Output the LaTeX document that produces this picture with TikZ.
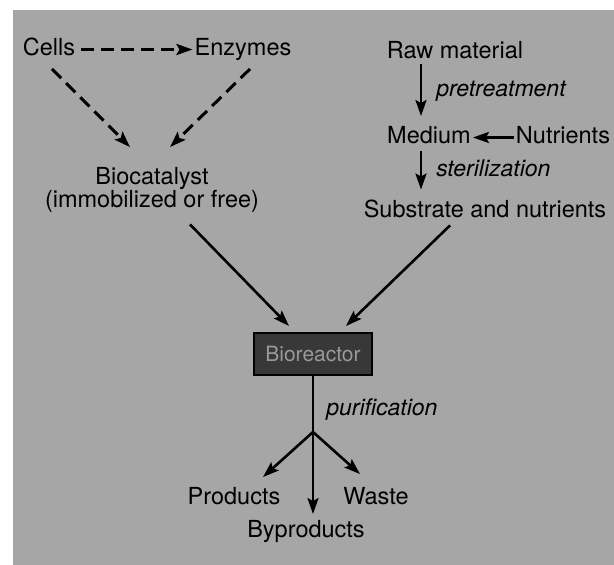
\documentclass[tikz,border=0pt]{standalone}
\usepackage{fontspec}
\setmainfont{TeX Gyre Heros}
\usetikzlibrary{arrows.meta, positioning}

\begin{document}
\begin{tikzpicture}[>={Stealth[length=16pt,width=11pt,inset=3pt]}, x=1pt, y=1pt,
    lbl/.style={font=\fontsize{23.5}{23.5}\selectfont, inner sep=2pt, text height=17pt, text depth=5.5pt},
    note/.style={font=\fontsize{23}{23}\selectfont\itshape, inner sep=2pt, text height=17pt, text depth=5.5pt},
    arr/.style={->, line width=2.6pt},
    darr/.style={->, line width=3pt, dash pattern=on 13pt off 7pt}]

    % Nền xám
    \fill[black!35] (13,-10) rectangle (614,-565);
    \useasboundingbox (0,0) rectangle (614,-565);

    % Nhánh trái: tế bào, enzyme, xúc tác
    \node[lbl] (cells) at (49,-49.5) {Cells};
    \node[lbl] (enz) at (243,-49.5) {Enzymes};
    \node[font=\fontsize{23.5}{22}\selectfont, align=center, inner sep=2pt] (bcat) at (152,-190) {
        Biocatalyst\\
        (immobilized or free)
    };
    \draw[darr, shorten <=4pt] (cells) -- (enz);
    \draw[darr] ([xshift=3pt,yshift=-6pt]cells.south) -- ([xshift=-22pt,yshift=18pt]bcat.north);
    \draw[darr] ([xshift=7pt,yshift=-6pt]enz.south) -- ([xshift=18pt,yshift=18pt]bcat.north);

    % Nhánh phải: nguyên liệu, môi trường, cơ chất
    \node[lbl] (raw) at (455,-53) {Raw material};
    \node[lbl] (medium) at (429,-137.5) {Medium};
    \node[lbl] (nutr) at (563,-137.5) {Nutrients};
    \node[lbl] (subs) at (485,-212) {Substrate and nutrients};
    \draw[arr] ([xshift=-34pt,yshift=2pt]raw.south) -- ([xshift=-8pt,yshift=8pt]medium.north)
        node[midway, note, right=12pt] {pretreatment};
    \draw[arr] (nutr) -- (medium);
    \draw[arr] ([xshift=-8pt]medium.south) -- ([xshift=-64pt,yshift=9pt]subs.north)
        node[midway, note, right=12pt] {sterilization};

    % Khối trung tâm: lò phản ứng sinh học
    \node[draw=black, line width=2pt, fill=black!78, text=black!40, minimum width=118pt, minimum height=42pt,
        font=\fontsize{21}{21}\selectfont] (reactor) at (313,-354) {Bioreactor};
    \draw[arr] ([xshift=38pt,yshift=-9.5pt]bcat.south) -- ([xshift=-24pt,yshift=6pt]reactor.north);
    \draw[arr] ([xshift=-35pt]subs.south) -- ([xshift=33pt,yshift=6pt]reactor.north);

    % Đầu ra sau tinh chế
    \coordinate (split) at (313,-432);
    \node[lbl] (prod) at (234,-499) {Products};
    \node[lbl] (waste) at (376,-499) {Waste};
    \node[lbl] (byp) at (306,-531.5) {Byproducts};
    \draw[line width=2.6pt] (reactor.south) -- (split)
        node[pos=0.6, note, right=10pt] {purification};
    \draw[arr] (split) -- ([xshift=29pt,yshift=8.5pt]prod.north);
    \draw[arr] (split) -- ([xshift=-16pt,yshift=11.5pt]waste.north);
    \draw[arr] (split) -- ([xshift=7pt,yshift=4pt]byp.north);

\end{tikzpicture}
\end{document}
